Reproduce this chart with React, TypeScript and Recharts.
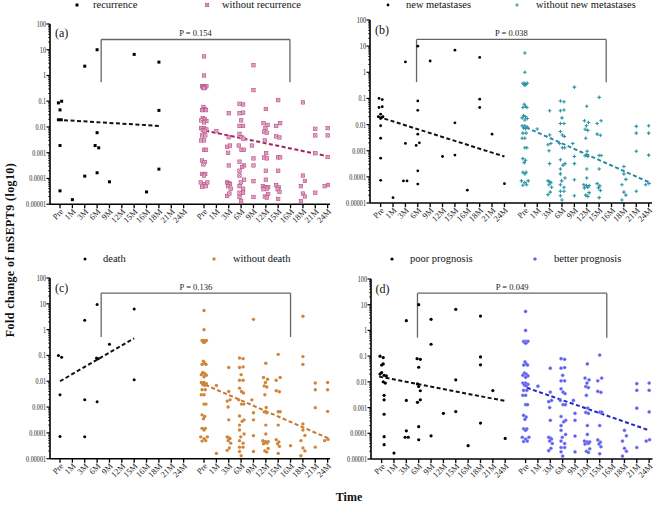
import React from "react";
import { ScatterChart, Scatter, XAxis, YAxis, ReferenceLine } from "recharts";

// x categories (two groups side by side on one numeric axis)
const timeLabels = ["Pre", "1M", "3M", "6M", "9M", "12M", "15M", "16M", "18M", "21M", "24M"];
const GROUP2_OFFSET = 11.65;
const yTickLabels = ["0.00001", "0.0001", "0.001", "0.01", "0.1", "1", "10", "100"];
const pValues = ["0.154", "0.038", "0.136", "0.049"];
const panelLetters = ["(a)", "(b)", "(c)", "(d)"];
const group1Names = ["recurrence", "new metastases", "death", "poor prognosis"];
const group2Names = ["without recurrence", "without new metastases", "without death", "better prognosis"];

// [time index, jitter, value]
type Row = [number, number, number];

const recurrence: Row[] = [
  [0, -0.13, 0.086], [0, 0.13, 0.1], [0, 0, 0.046], [0, -0.13, 0.019], [0, 0.1, 0.019],
  [0, 0, 0.0019], [0, 0, 0.000033], [1, 0, 0.000015], [2, 0, 2.3], [2, 0, 0.000123],
  [3, 0, 10], [3, 0, 0.006], [3, -0.16, 0.0019], [3, 0.13, 0.00155], [3, 0, 0.000166],
  [4, 0, 0.000074], [6, 0, 6.6], [7, 0, 0.00003], [8, 0, 3.3], [8, 0, 0.044], [8, 0, 0.00023],
];

const newMetastases: Row[] = [
  [0, -0.13, 0.1], [0, 0.13, 0.09], [0, -0.13, 0.045], [0, 0.13, 0.048], [0, 0, 0.025],
  [0, -0.19, 0.02], [0, 0.19, 0.02], [0, 0, 0.017], [0, 0.13, 0.019], [0, 0, 0.009],
  [0, 0, 0.003], [0, 0, 0.00052], [0, 0, 0.000074], [1, 0, 0.000016], [2, 0, 2.5],
  [2, 0, 0.0019], [2, -0.16, 0.00007], [2, 0.13, 0.00007], [3, 0, 10], [3, 0, 0.08],
  [3, 0, 0.035], [3, 0, 0.0043], [3, -0.13, 0.0016], [3, 0.13, 0.002], [3, 0, 0.00017],
  [3, 0, 0.000053], [4, 0, 2.7], [5, 0, 0.0006], [6, 0, 7], [6, 0, 0.0117], [6, 0, 0.00068],
  [7, 0, 0.000031], [8, 0, 3.7], [8, 0, 0.094], [8, 0, 0.045], [9, 0, 0.0043], [10, 0, 0.000055],
];

const death: Row[] = [
  [0, -0.13, 0.1], [0, 0.13, 0.085], [0, 0, 0.003], [0, 0, 0.000072], [2, 0, 2.3],
  [2, 0, 0.0019], [2, 0, 0.00007], [3, 0, 9.5], [3, -0.05, 0.08], [3, 0.1, 0.075],
  [3, 0, 0.0016], [4, 0, 0.27], [6, 0, 6.3], [6, 0, 0.0115],
];

const poorPrognosis: Row[] = [
  [0, -0.13, 0.1], [0, 0.13, 0.088], [0, 0, 0.045], [0, 0.13, 0.05], [0, 0, 0.023],
  [0, -0.13, 0.02], [0, 0.2, 0.018], [0, 0.38, 0.017], [0, 0.13, 0.01], [0, 0.3, 0.009],
  [0, 0.2, 0.003], [0, 0.2, 0.002], [0, 0.2, 0.00055], [0, 0.2, 0.000074], [0, 0.2, 0.000036],
  [1, 0, 0.000017], [2, 0, 2.4], [2, 0, 0.0019], [2, 0, 0.000125], [2, -0.1, 0.00007],
  [2, 0.16, 0.00007], [3, 0, 10], [3, -0.13, 0.08], [3, 0.13, 0.075], [3, 0, 0.037],
  [3, -0.1, 0.0083], [3, 0, 0.0066], [3, 0.13, 0.0045], [3, -0.1, 0.0016], [3, 0.13, 0.002],
  [3, 0, 0.00018], [3, 0, 0.000056], [4, 0, 2.7], [4, 0, 0.29], [4, 0, 0.00008],
  [5, 0, 0.0006], [6, 0, 6.6], [6, 0, 0.012], [6, 0, 0.0007], [7, 0, 0.000033],
  [8, 0, 3.6], [8, 0, 0.093], [8, 0, 0.046], [8, 0, 0.00025], [9, 0, 0.0046], [10, 0, 0.000063],
];

// values shared by the four "without / better" groups
const withoutShared: Row[] = [
  [0, 0, 5.5], [0, 0, 1.0], [0, -0.16, 0.38], [0, 0, 0.38], [0, 0.19, 0.38], [0, -0.08, 0.34],
  [0, 0.08, 0.34], [0, 0, 0.32], [0, -0.05, 0.06], [0, 0.05, 0.05], [0, -0.16, 0.045],
  [0, 0.16, 0.045], [0, -0.1, 0.022], [0, 0.05, 0.02], [0, -0.22, 0.018], [0, 0.19, 0.017],
  [0, 0, 0.015], [0, -0.22, 0.009], [0, 0, 0.009], [0, 0.19, 0.008], [0, -0.1, 0.0075],
  [0, 0.05, 0.007], [0, -0.16, 0.0047], [0, 0.1, 0.0047], [0, -0.22, 0.003], [0, 0, 0.003],
  [0, 0, 0.0013], [0, 0.16, 0.0013], [0, -0.16, 0.0005], [0, 0.05, 0.00043], [0, -0.05, 0.00035],
  [0, -0.16, 0.00015], [0, 0.1, 0.00015], [0, 0, 0.00013], [0, -0.27, 0.00007], [0, 0, 0.00006],
  [0, 0.27, 0.00007], [0, -0.16, 0.000048], [0, 0.14, 0.00005],
  [1, 0, 0.0068],
  [2, 0, 0.034], [2, 0, 0.004], [2, -0.13, 0.0017], [2, 0.1, 0.0019], [2, -0.05, 0.001],
  [2, 0, 0.00032], [2, -0.13, 0.00007], [2, 0, 0.000065], [2, 0.1, 0.00006], [2, -0.05, 0.00005],
  [2, 0.16, 0.00004], [2, -0.13, 0.000021], [2, 0.05, 0.000026],
  [3, -0.13, 0.08], [3, 0.16, 0.075], [3, -0.13, 0.034], [3, 0.16, 0.036], [3, 0, 0.018],
  [3, -0.13, 0.011], [3, 0.16, 0.011], [3, -0.13, 0.0054], [3, 0.03, 0.004], [3, 0.19, 0.0035],
  [3, -0.19, 0.0019], [3, 0.03, 0.0013], [3, 0.22, 0.0013], [3, -0.13, 0.00045], [3, 0.24, 0.00032],
  [3, 0.08, 0.00028], [3, -0.13, 0.0002], [3, -0.13, 0.00013], [3, 0.24, 0.00009], [3, -0.03, 0.00007],
  [3, -0.13, 0.00005], [3, 0.16, 0.00004], [3, -0.13, 0.000028], [3, 0.16, 0.000028],
  [3, -0.13, 0.000019], [3, 0, 0.000013],
  [4, -0.13, 0.0019], [4, 0, 0.0006], [4, 0, 0.00032], [4, 0, 0.000078], [4, 0, 0.000019],
  [5, 0, 0.05], [5, -0.19, 0.014], [5, 0.14, 0.012], [5, -0.03, 0.009], [5, -0.13, 0.0066],
  [5, 0.08, 0.006], [5, -0.08, 0.003], [5, 0.03, 0.00096], [5, -0.13, 0.00065], [5, 0.08, 0.0006],
  [5, 0, 0.0002], [5, 0, 0.00009], [5, -0.24, 0.00005], [5, -0.03, 0.000046], [5, 0.19, 0.000046],
  [5, 0.08, 0.00004], [5, -0.19, 0.000038], [5, 0.19, 0.000025], [5, -0.08, 0.00002], [5, 0.08, 0.000018],
  [6, 0, 0.11], [6, -0.16, 0.011], [6, 0.16, 0.014], [6, -0.16, 0.0043], [6, 0.1, 0.0039],
  [6, 0, 0.00066], [6, 0.16, 0.00066], [6, 0, 0.0002], [6, -0.16, 0.000055], [6, 0.05, 0.000045],
  [6, -0.05, 0.000038], [6, 0.1, 0.00003], [6, 0, 0.000016],
  [8, 0, 0.00013], [8, 0.16, 0.00008], [8, -0.16, 0.00005], [8, 0, 0.000026], [8, 0.16, 0.00002],
  [8, -0.16, 0.000013],
  [9, 0, 0.0085], [9, 0, 0.0047], [9, 0, 0.00095], [9, 0, 0.000028],
  [10, 0, 0.009], [10, 0, 0.0047], [10, 0, 0.00068], [10, -0.24, 0.00005], [10, 0.03, 0.000056],
];
const withoutRecurrenceExtra: Row[] = [[4, 0, 2.5], [4, 0, 0.27], [8, 0, 0.09]];
const withoutMetastasesExtra: Row[] = [[4, 0, 0.27], [8, 0, 0.00025]];
const withoutDeathExtra: Row[] = [
  [1, 0, 0.000016], [4, 0, 2.5], [7, 0, 0.000032], [8, 0, 3.3], [8, 0, 0.09], [8, 0, 0.045], [8, 0, 0.00022],
];
const betterPrognosisExtra: Row[] = [];

// dashed trend lines: [time index, value] start / end
const trend1 = [
  [[-0.2, 0.019], [8, 0.011]],
  [[-0.2, 0.02], [10, 0.0006]],
  [[0, 0.01], [6, 0.46]],
  [[-0.2, 0.016], [10, 0.0018]],
];
const trend2 = [
  [[0.1, 0.0072], [10, 0.00073]],
  [[0.1, 0.0078], [10, 0.000063]],
  [[0.1, 0.0073], [10.1, 0.00006]],
  [[0.1, 0.0059], [10, 0.00013]],
];
// bracket: [left x, right x, bottom value, top value]
const brackets = [
  [3.33, 18.6, 0.54, 25],
  [2.9, 18.22, 0.42, 18],
  [3.33, 18.65, 0.52, 26],
  [2.9, 18.22, 0.52, 28],
];

const SERIF = "'Liberation Serif', 'DejaVu Serif', serif";
const xTicks = [...timeLabels.map((_, i) => i), ...timeLabels.map((_, i) => i + GROUP2_OFFSET)];
const yTicks: number[] = [];
for (let e = -5; e <= 2; e++) {
  yTicks.push(Math.pow(10, e));
  if (e < 2) for (let m = 2; m <= 9; m++) yTicks.push(m * Math.pow(10, e));
}

const toPoints = (rows: Row[], offset: number) =>
  rows.map(([t, j, v]) => ({ x: t + j + offset, y: v }));

const blackSquare = (p: any) => (
  <rect x={p.cx - 1.5} y={p.cy - 1.5} width={3} height={3} fill="#000" />
);
const blackDot = (r: number) => (p: any) => <circle cx={p.cx} cy={p.cy} r={r} fill="#000" />;
const pinkBox = (p: any) => (
  <g>
    <rect x={p.cx - 1.7} y={p.cy - 1.7} width={3.4} height={3.4} fill="#f7dde9" stroke="#b84a84" strokeWidth={0.7} />
    <path
      d={`M${p.cx - 1.5} ${p.cy - 1.5}L${p.cx + 1.5} ${p.cy + 1.5}M${p.cx + 1.5} ${p.cy - 1.5}L${p.cx - 1.5} ${p.cy + 1.5}`}
      stroke="#b84a84"
      strokeWidth={0.55}
    />
  </g>
);
const tealPlus = (p: any) => (
  <path
    d={`M${p.cx - 1.8} ${p.cy}H${p.cx + 1.8}M${p.cx} ${p.cy - 1.8}V${p.cy + 1.8}`}
    stroke="#2c93a6"
    strokeWidth={1.1}
  />
);
const orangeDot = (p: any) => <circle cx={p.cx} cy={p.cy} r={1.7} fill="#d0863a" />;
const blueDot = (p: any) => (
  <circle cx={p.cx} cy={p.cy} r={1.6} fill="#5a5aee" stroke="#9a9af6" strokeWidth={0.5} />
);

const panels = [
  {
    g1: recurrence, g2: [...withoutShared, ...withoutRecurrenceExtra],
    shape1: blackSquare, shape2: pinkBox, trendColor: "#9b2760",
    left: 50, right: 330, top: 23.6, bottom: 203.8, domain: [-0.81, 21.84],
    legendY: 5, legendX: [77, 93, 207, 222],
  },
  {
    g1: newMetastases, g2: [...withoutShared, ...withoutMetastasesExtra],
    shape1: blackDot(1.4), shape2: tealPlus, trendColor: "#2a8a9e",
    left: 370, right: 652, top: 20, bottom: 203, domain: [-0.86, 21.92],
    legendY: 5, legendX: [388, 406, 517, 536],
  },
  {
    g1: death, g2: [...withoutShared, ...withoutDeathExtra],
    shape1: blackDot(1.5), shape2: orangeDot, trendColor: "#c4772e",
    left: 50, right: 330, top: 278.3, bottom: 459, domain: [-0.81, 21.84],
    legendY: 259, legendX: [85, 103, 214, 233],
  },
  {
    g1: poorPrognosis, g2: [...withoutShared, ...betterPrognosisExtra],
    shape1: blackDot(1.6), shape2: blueDot, trendColor: "#2323c8",
    left: 370.5, right: 652, top: 279, bottom: 459, domain: [-0.86, 21.92],
    legendY: 259, legendX: [392, 410, 535, 554],
  },
];

const XTick = (props: any) => {
  const { x, y, payload } = props;
  const v = payload.value;
  const idx = v >= GROUP2_OFFSET - 0.01 ? Math.round(v - GROUP2_OFFSET) : Math.round(v);
  const ax = x + 4;
  const ay = y + 8;
  return (
    <g>
      <line x1={x} x2={x} y1={y} y2={y + 4} stroke="#000" strokeWidth={1.3} />
      <text x={ax} y={ay} transform={`rotate(-45 ${ax} ${ay})`} textAnchor="end" fontSize={8.5} fontFamily={SERIF} fill="#222">
        {timeLabels[idx]}
      </text>
    </g>
  );
};

const YTick = (props: any) => {
  const { x, y, payload } = props;
  const lg = Math.log10(payload.value);
  const major = Math.abs(lg - Math.round(lg)) < 1e-9;
  if (!major) return <line x1={x - 2} x2={x} y1={y} y2={y} stroke="#000" strokeWidth={0.7} />;
  const label = yTickLabels[Math.round(lg) + 5];
  const digits = label.replace(".", "").length;
  const w = digits * 3.1 + (label.includes(".") ? 1.3 : 0);
  return (
    <g>
      <line x1={x - 3.5} x2={x} y1={y} y2={y} stroke="#000" strokeWidth={1.2} />
      <text x={x - 4 - w} y={y + 3} textLength={w} lengthAdjust="spacingAndGlyphs" fontSize={9} fontFamily={SERIF} fill="#222">
        {label}
      </text>
    </g>
  );
};

function LegendMarker({ shape }: { shape: (p: any) => React.ReactNode }) {
  return (
    <svg width={8} height={8} style={{ position: "absolute", left: -4, top: -4, overflow: "visible" }}>
      {shape({ cx: 4, cy: 4 })}
    </svg>
  );
}

function Panel({ i }: { i: number }) {
  const p = panels[i];
  const yw = 45;
  const mt = 8;
  const mr = 4;
  const xh = 30;
  const plotW = p.right - p.left;
  const plotH = p.bottom - p.top;
  const pts1 = toPoints(p.g1, 0);
  const pts2 = toPoints(p.g2, GROUP2_OFFSET);
  const t1 = trend1[i];
  const t2 = trend2[i];
  const [bl, br, bb, bt] = brackets[i];
  const axisStyle = { stroke: "#000", strokeWidth: 1.6 };
  return (
    <>
      <div style={{ position: "absolute", left: p.left - yw, top: p.top - mt }}>
        <ScatterChart width={yw + plotW + mr} height={mt + plotH + xh} margin={{ top: mt, right: mr, bottom: 0, left: 0 }}>
          <XAxis
            type="number"
            dataKey="x"
            domain={p.domain}
            ticks={xTicks}
            interval={0}
            tickSize={0}
            tickMargin={0}
            height={xh}
            tick={XTick}
            axisLine={axisStyle}
            allowDataOverflow
          />
          <YAxis
            type="number"
            dataKey="y"
            scale="log"
            domain={[1e-5, 100]}
            ticks={yTicks}
            interval={0}
            width={yw}
            tickSize={0}
            tickMargin={0}
            tick={YTick}
            axisLine={axisStyle}
            allowDataOverflow
          />
          <ReferenceLine segment={[{ x: bl, y: bb }, { x: bl, y: bt }]} stroke="#666" strokeWidth={1.3} ifOverflow="visible" />
          <ReferenceLine segment={[{ x: br, y: bb }, { x: br, y: bt }]} stroke="#666" strokeWidth={1.3} ifOverflow="visible" />
          <ReferenceLine
            segment={[{ x: bl, y: bt }, { x: br, y: bt }]}
            stroke="#666"
            strokeWidth={1.3}
            ifOverflow="visible"
            label={{ value: `P = ${pValues[i]}`, position: "top", offset: 3, fontSize: 8.5, fill: "#222", fontFamily: SERIF }}
          />
          <Scatter data={pts1} shape={p.shape1} isAnimationActive={false} />
          <Scatter data={pts2} shape={p.shape2} isAnimationActive={false} />
          <ReferenceLine
            segment={[{ x: t1[0][0], y: t1[0][1] }, { x: t1[1][0], y: t1[1][1] }]}
            stroke="#111"
            strokeWidth={2}
            strokeDasharray="4 2.5"
            ifOverflow="visible"
          />
          <ReferenceLine
            segment={[{ x: t2[0][0] + GROUP2_OFFSET, y: t2[0][1] }, { x: t2[1][0] + GROUP2_OFFSET, y: t2[1][1] }]}
            stroke={p.trendColor}
            strokeWidth={2}
            strokeDasharray="4 2.5"
            ifOverflow="visible"
          />
        </ScatterChart>
      </div>
      <div style={{ position: "absolute", left: p.left + 5, top: p.top + 9.5 - 7, fontSize: 12, fontFamily: SERIF, lineHeight: "14px", color: "#111" }}>
        {panelLetters[i]}
      </div>
      <div style={{ position: "absolute", left: p.legendX[0], top: p.legendY }}>
        <LegendMarker shape={p.shape1} />
      </div>
      <div style={{ position: "absolute", left: p.legendX[1], top: p.legendY - 7, fontSize: 10.5, fontFamily: SERIF, lineHeight: "14px", whiteSpace: "nowrap", color: "#111" }}>
        {group1Names[i]}
      </div>
      <div style={{ position: "absolute", left: p.legendX[2], top: p.legendY }}>
        <LegendMarker shape={p.shape2} />
      </div>
      <div style={{ position: "absolute", left: p.legendX[3], top: p.legendY - 7, fontSize: 10.5, fontFamily: SERIF, lineHeight: "14px", whiteSpace: "nowrap", color: "#111" }}>
        {group2Names[i]}
      </div>
    </>
  );
}

export default function App() {
  return (
    <div style={{ position: "absolute", left: 0, top: 0, width: 658, height: 507, background: "#fff", overflow: "hidden" }}>
      {panels.map((_, i) => (
        <Panel key={i} i={i} />
      ))}
      <div
        style={{
          position: "absolute",
          left: 10 - 110,
          top: 250 - 8,
          width: 220,
          height: 16,
          lineHeight: "16px",
          textAlign: "center",
          transform: "rotate(-90deg)",
          fontFamily: SERIF,
          fontWeight: "bold",
          fontSize: 12,
          letterSpacing: 0.4,
          whiteSpace: "nowrap",
          color: "#111",
        }}
      >
        Fold change of mSEPT9 (log10)
      </div>
      <div
        style={{
          position: "absolute",
          left: 349 - 30,
          top: 497 - 8,
          width: 60,
          lineHeight: "16px",
          textAlign: "center",
          fontFamily: SERIF,
          fontWeight: "bold",
          fontSize: 12,
          color: "#111",
        }}
      >
        Time
      </div>
    </div>
  );
}
